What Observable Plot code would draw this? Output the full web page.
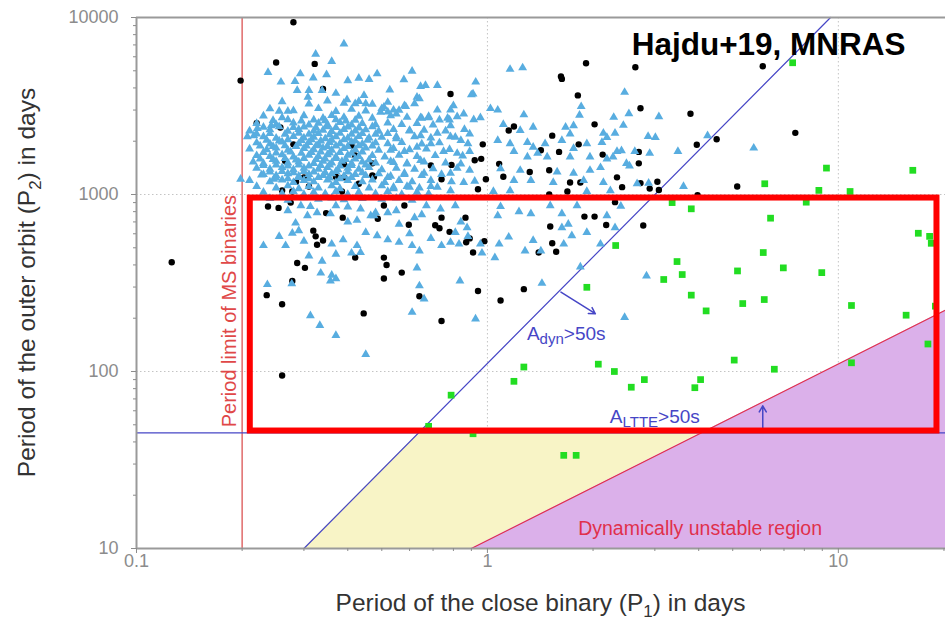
<!DOCTYPE html>
<html><head><meta charset="utf-8">
<script src="https://cdn.jsdelivr.net/npm/d3@7"></script>
<script src="https://cdn.jsdelivr.net/npm/@observablehq/plot@0.6"></script>
<style>body{margin:0;background:#fff;} svg{display:block;}</style>
</head><body><div id="chart"></div>
<script>
// ---------- data: [P1 (days), P2 (days)] ----------
const triangles = [
 [0.39,7100],[0.324,6200],[0.36,5650],[0.237,4900],[0.293,4810],[0.319,4560],[0.348,4760],[0.283,4350],[0.258,4320],[0.40,4400],
 [0.43,4540],[0.46,4470],[0.485,4810],[0.287,3870],[0.31,3870],[0.338,3870],[0.308,3550],[0.37,3730],[0.398,3430],[0.445,3630],
 [0.578,4450],[0.61,4980],[0.666,4130],[0.72,4130],[0.926,4320],[0.527,3900],[0.91,3700],[0.63,3550],[0.58,3180],[0.62,3260],
 [0.80,3180],[0.255,2960],[0.27,2960],[1.02,3060],[1.07,3000],[0.82,2750],[0.955,2720],[0.73,2640],[0.78,2640],[0.65,2700],
 [0.55,2850],[0.496,2920],[0.45,3260],[0.42,3260],[0.645,4080],[0.9,3660],[1.16,5100],[1.26,5200],[0.64,3480],[0.585,3140],
 [0.507,3120],[1.27,2820],[1.85,3140],[1.83,2810],[2.29,2730],[0.645,2720],[0.68,2720],[0.54,3000],[0.52,2930],[0.785,2450],
 [1.11,2490],[1.24,2300],[1.35,2400],[1.67,2400],[1.76,2450],[1.72,2200],[2.14,2220],[2.19,2100],[2.31,2220],[1.07,2020],
 [1.16,1940],[1.3,1970],[1.35,1850],[1.46,1940],[1.63,2020],[1.76,1820],[1.92,1940],[2.12,1970],[1.19,1750],[1.39,1710],
 [1.3,1630],[1.48,1630],[1.72,1630],[1.96,1630],[2.19,1590],[2.34,1750],[1.09,1400],[1.24,1370],[1.58,1340],[1.76,1320],
 [1.96,1370],[2.1,1420],[1.19,1200],[1.33,1200],[1.88,1200],[2.14,1170],[2.24,1050],[1.92,1040],[1.54,1170],[1.16,1050],
 [1.04,1040],[0.785,3000],[0.72,3000],[0.856,2850],[0.914,2650],[0.77,2700],[0.89,2200],[0.84,2020],[0.785,2120],[0.72,2220],
 [0.645,2150],[0.6,2300],[0.55,2120],[0.69,1940],[0.63,1850],[0.58,1750],[0.53,1780],[0.75,1750],[0.82,1710],[0.89,1750],
 [0.645,1560],[0.59,1490],[0.54,1520],[0.84,1490],[0.89,1370],[0.66,1320],[0.58,1320],[0.52,1250],[0.785,1320],[0.856,1170],
 [0.69,1110],[0.6,1100],[0.54,1100],[0.785,1050],
 [2.46,3780],[2.53,2860],[3.08,2750],[2.44,2460],[2.87,2130],[3.01,2100],[4.24,2150],[5.74,1830],[3.49,1750],[2.41,1770],
 [2.63,1750],[2.9,1710],[2.28,1630],[2.49,1500],[2.54,1450],[2.67,1150],[2.88,1160],[3.62,1110],[2.4,860],[2.31,650],
 [2.84,347],[2.46,202],
 [0.475,760],[0.52,790],[0.55,810],[0.56,680],[0.62,740],[0.65,770],[0.485,585],[0.52,555],[0.56,537],[0.6,600],
 [0.61,515],[0.64,480],[0.69,565],[0.74,515],[0.785,537],[0.83,525],[0.81,610],[0.875,650],[0.88,580],[0.955,525],
 [0.965,467],[0.84,700],[0.735,830],[0.81,865],[0.67,865],[0.63,385],[0.64,305],[0.66,257],[0.61,216],[0.835,325],
 [0.925,198],[1.08,525],[1.07,760],[1.09,855],[1.23,800],[1.33,780],[1.15,575],[1.28,480],[1.35,550],[1.42,480],
 [1.05,440],[1.63,780],[1.63,650],[1.7,680],[1.8,865],[1.74,585],[1.65,525],[1.92,610],[2.1,525],[2.19,760],
 [1.43,315],[1.84,390],[1.51,865],
 [0.23,515],[0.255,580],[0.266,515],[0.278,605],[0.30,545],[0.29,625],[0.31,450],[0.338,420],[0.335,360],[0.36,350],
 [0.37,335],[0.357,325],[0.36,525],[0.388,555],[0.425,515],[0.37,460],[0.41,467],[0.435,470],[0.236,310],[0.277,313],
 [0.313,207],[0.333,182],[0.37,160],[0.45,125],[0.284,690],[0.307,760],[0.327,790],[0.357,780],[0.40,700],[0.425,715],
 [0.45,610],[0.465,760],[0.27,810],[0.294,865],[0.313,855],[0.37,865],[0.40,850],[0.435,830],[0.48,790],
 [0.198,1220],[0.227,1290],[0.246,1220],[0.216,2150],[0.207,2120],[0.221,2360],[0.242,2450],
 [0.26,3350],[0.31,3250],[0.35,3380],[0.39,3280],[0.43,3360],[0.47,3240],[0.52,3320],
 [0.24,3050],[0.28,2980],[0.33,3060],[0.37,2950],[0.41,3030],[0.45,2970],[0.50,3060],[0.56,2990],
 [0.23,2780],[0.26,2720],[0.30,2790],[0.34,2700],[0.36,2800],[0.39,2730],[0.43,2770],[0.47,2700],[0.53,2790],[0.59,2730],[0.68,2760],
 [0.22,2520],[0.25,2480],[0.28,2540],[0.31,2470],[0.33,2530],[0.35,2490],[0.38,2550],[0.41,2470],[0.44,2520],[0.48,2480],[0.52,2540],[0.57,2490],[0.63,2520],[0.70,2470],
 [0.21,2290],[0.24,2320],[0.27,2280],[0.29,2330],[0.32,2290],[0.34,2310],[0.36,2270],[0.39,2330],[0.42,2290],[0.45,2320],[0.49,2280],[0.54,2330],[0.60,2290],[0.66,2310],[0.76,2290],[0.86,2330],
 [0.23,2120],[0.25,2080],[0.28,2130],[0.30,2090],[0.32,2110],[0.345,2070],[0.37,2120],[0.40,2080],[0.43,2130],[0.46,2090],[0.50,2110],[0.55,2070],[0.62,2120],[0.69,2090],[0.81,2110],
 [0.22,1960],[0.24,1930],[0.26,1980],[0.29,1940],[0.31,1970],[0.33,1920],[0.355,1970],[0.38,1940],[0.41,1980],[0.44,1930],[0.48,1960],[0.52,1940],[0.57,1970],[0.65,1930],[0.73,1960],[0.88,1940],
 [0.21,1810],[0.235,1790],[0.25,1830],[0.27,1780],[0.30,1820],[0.32,1790],[0.34,1830],[0.36,1780],[0.39,1820],[0.42,1790],[0.45,1830],[0.49,1780],[0.54,1820],[0.60,1790],[0.67,1810],[0.78,1800],
 [0.22,1660],[0.24,1640],[0.26,1680],[0.28,1630],[0.31,1670],[0.33,1640],[0.35,1680],[0.37,1630],[0.40,1670],[0.43,1640],[0.47,1660],[0.51,1630],[0.56,1670],[0.63,1640],[0.71,1660],[0.85,1650],
 [0.215,1530],[0.23,1500],[0.25,1540],[0.27,1510],[0.29,1530],[0.32,1500],[0.34,1540],[0.36,1510],[0.385,1540],[0.41,1500],[0.44,1530],[0.48,1510],[0.53,1540],[0.59,1500],[0.66,1530],[0.76,1510],
 [0.22,1410],[0.24,1390],[0.26,1420],[0.28,1380],[0.30,1410],[0.33,1390],[0.35,1420],[0.375,1380],[0.40,1410],[0.43,1390],[0.46,1420],[0.50,1380],[0.55,1410],[0.62,1390],[0.70,1400],[0.82,1410],
 [0.23,1300],[0.25,1280],[0.27,1310],[0.29,1270],[0.31,1300],[0.34,1280],[0.36,1310],[0.39,1270],[0.42,1300],[0.45,1280],[0.49,1310],[0.53,1270],[0.58,1300],[0.65,1280],[0.74,1300],
 [0.21,1200],[0.24,1180],[0.26,1210],[0.28,1170],[0.30,1200],[0.32,1180],[0.35,1210],[0.37,1170],[0.40,1200],[0.44,1180],[0.47,1210],[0.51,1170],[0.56,1200],[0.61,1180],[0.69,1200],[0.79,1180],[0.92,1190],
 [0.22,1110],[0.25,1090],[0.27,1120],[0.29,1080],[0.31,1110],[0.33,1090],[0.36,1120],[0.38,1080],[0.42,1110],[0.46,1090],[0.50,1120],[0.54,1080],[0.59,1110],[0.64,1090],[0.72,1100],
 [0.23,1030],[0.26,1010],[0.28,1040],[0.30,1000],[0.32,1030],[0.345,1010],[0.37,1040],[0.40,1000],[0.43,1030],[0.48,1010],[0.52,1040],[0.57,1000],[0.63,1030],[0.68,1010],
 [0.24,950],[0.27,930],[0.30,960],[0.33,940],[0.36,955],[0.39,935],[0.44,950],[0.50,940],[0.55,955],[0.61,930],
 [0.245,2620],[0.27,2650],[0.295,2600],[0.32,2640],[0.345,2610],[0.37,2650],[0.395,2600],[0.42,2630],
 [0.23,2400],[0.255,2420],[0.28,2390],[0.30,2410],[0.325,2380],[0.35,2420],[0.37,2390],[0.40,2410],[0.43,2380],[0.47,2420],
 [0.22,2200],[0.24,2210],[0.265,2190],[0.29,2220],[0.31,2190],[0.33,2210],[0.355,2180],[0.38,2220],[0.41,2190],[0.44,2210],[0.48,2190],[0.52,2210],
 [0.235,2030],[0.255,2010],[0.27,2040],[0.295,2020],[0.315,2040],[0.335,2010],[0.36,2030],[0.39,2040],[0.42,2010],[0.455,2030],
 [0.225,1880],[0.245,1870],[0.265,1890],[0.285,1870],[0.305,1880],[0.325,1890],[0.35,1870],[0.37,1880],[0.40,1870],[0.43,1890],[0.47,1880],
 [0.23,1730],[0.25,1720],[0.275,1740],[0.295,1710],[0.315,1730],[0.335,1740],[0.355,1720],[0.38,1730],[0.41,1710],[0.44,1740],
 [0.225,1590],[0.245,1580],[0.265,1600],[0.285,1570],[0.30,1600],[0.325,1580],[0.345,1590],[0.37,1600],[0.395,1580],[0.42,1590],[0.46,1570],
 [0.23,1460],[0.25,1470],[0.27,1450],[0.29,1470],[0.31,1450],[0.335,1460],[0.355,1470],[0.38,1450],[0.41,1460],[0.45,1470],
 [0.24,1340],[0.26,1350],[0.28,1330],[0.30,1350],[0.32,1340],[0.345,1330],[0.37,1350],[0.40,1340],[0.44,1330],
 [0.25,1240],[0.27,1230],[0.29,1250],[0.31,1230],[0.33,1250],[0.355,1240],[0.38,1230],[0.41,1250]
];
const blackDots = [
 [0.28,9400],[0.198,4400],[0.25,5570],[0.322,5470],[0.22,2530],[0.257,2390],[0.28,1920],[0.265,1550],[0.39,1480],[0.47,1500],
 [0.43,1150],[0.39,1250],[0.30,1250],[0.285,1180],[0.31,1110],[0.26,1055],[0.278,1040],[0.37,1260],[0.385,1040],[0.47,1280],
 [0.41,1890],[0.42,1660],[0.34,3950],
 [0.785,3700],[1.62,4640],[1.63,4500],[1.91,5520],[1.81,3630],[2.02,2490],[1.19,2420],[1.15,2300],[1.53,2150],[1.82,1920],[0.97,1920],
 [2.13,1680],[1.6,1740],[1.42,1780],[0.96,1590],[0.92,1560],[0.69,1460],[0.79,1470],[1.08,1490],[1.5,1370],[1.32,1340],
 [1.11,1260],[0.74,1220],[0.99,1220],[0.475,1260],[1.72,1170],[1.84,1170],[2.34,1250],[1.69,1040],[1.5,1000],[0.94,1070],
 [2.64,5240],[6.09,5300],[2.73,3070],[3.79,2860],[7.54,2230],[3.95,1910],[4.5,2050],[2.7,1740],[2.7,1500],[2.73,1160],
 [3.05,1180],[2.9,1080],[3.08,1060],[2.42,1100],[5.15,1110],[3.97,990],
 [0.126,414],[0.237,855],[0.254,840],[0.275,900],[0.319,625],[0.324,580],[0.34,550],[0.327,520],[0.287,410],[0.302,385],
 [0.278,325],[0.235,270],[0.26,240],[0.444,213],[0.26,95],[0.387,740],[0.42,440],[0.347,785],
 [0.507,867],[0.487,730],[0.597,675],[0.58,867],[0.74,740],[0.71,670],[0.73,645],[0.78,615],[0.866,740],[0.87,537],
 [0.89,565],[0.98,545],[0.91,470],[0.507,440],[0.516,400],[0.57,362],[0.507,335],[0.94,285],[0.64,266],[0.74,193],
 [1.09,252],[1.27,292],[1.51,660],[1.53,530],[1.4,470],[1.57,475],[1.89,750],[2.02,750],[2.18,672],[2.31,905],[2.78,668]
];
const greenSquares = [
 [7.41,5550],[9.25,1410],[16.3,1370],[6.17,1150],[8.8,1055],[10.8,1040],[8.1,905],[3.36,900],[3.81,830],[6.41,735],
 [16.9,604],[18.2,580],[18.4,530],[2.32,515],[6.11,470],[3.47,418],[3.59,353],[3.18,331],[5.16,370],[6.97,385],
 [8.97,362],[3.81,270],[4.2,220],[5.34,242],[6.15,255],[10.9,236],[15.6,208],[18.9,234],[18.0,143],[10.9,112],
 [5.05,116],[6.57,103],[2.3,100],[2.8,90],[2.57,81.5],[4.05,90],[3.9,81],[1.27,106],[1.19,88],[2.07,110],
 [1.92,299],[0.788,73.5],[0.68,49],[0.91,44.5],[1.65,33.6],[1.79,33.6]
];
// axes
const xTicks = [0.1, 1, 10];
const yTicks = [10, 100, 1000, 10000];
const xMinor = [0.2,0.3,0.4,0.5,0.6,0.7,0.8,0.9,2,3,4,5,6,7,8,9,20];
const yMinor = [20,30,40,50,60,70,80,90,200,300,400,500,600,700,800,900,2000,3000,4000,5000,6000,7000,8000,9000];
const xGrid = [1, 10];
const yGrid = [100, 1000];
// limits and regions
const msLimitP1 = 0.2;
const ltteP2 = 45;
const dynLine = [[0.3, 10], [9.5, 10000]];
const stabLine = [[0.9, 10], [20.2, 222]];
const yellowP1 = [0.3, 0.637, 0.9, 4.05];
const yellowTop = [10, 45, 45, 45];
const yellowBottom = [10, 10, 10, 45];
const purpleP1 = [0.9, 20.2];
const purpleTop = [10, 222];
const purpleBottom = [10, 10];
const box = [{x1: 0.211, x2: 19.1, y1: 46.1, y2: 955}];
const dynArrow = [{x1: 1.62, y1: 281, x2: 2.03, y2: 212}];
const ltteArrow = [{x1: 6.09, y1: 45.5, x2: 6.09, y2: 64}];

const FONT = "Liberation Sans, Arial, Helvetica, sans-serif";
const BLUE = "#4646c6";
const GRAY = "#8c8c8c";

const chart = Plot.plot({
  width: 945, height: 621,
  marginTop: 17, marginLeft: 136, marginRight: 0, marginBottom: 73,
  x: {type: "log", domain: [0.1, 20.2], label: null},
  y: {type: "log", domain: [10, 10000], label: null},
  style: {fontFamily: FONT, background: "#fff", overflow: "visible"},
  marks: [
    Plot.ruleX(xGrid, {stroke: "#c4c4c4", strokeDasharray: "1.5,2.5"}),
    Plot.ruleY(yGrid, {stroke: "#c4c4c4", strokeDasharray: "1.5,2.5"}),
    Plot.areaY(yellowP1, {x: d => d, y1: (d, i) => yellowBottom[i], y2: (d, i) => yellowTop[i], fill: "#f8f4c6", curve: "linear"}),
    Plot.areaY(purpleP1, {x: d => d, y1: (d, i) => purpleBottom[i], y2: (d, i) => purpleTop[i], fill: "#dbb0ea", curve: "linear"}),
    Plot.ruleX([msLimitP1], {stroke: "#e06a6a", strokeWidth: 1.5}),
    Plot.ruleY([ltteP2], {stroke: BLUE, strokeWidth: 1.2}),
    Plot.line(dynLine, {x: d => d[0], y: d => d[1], stroke: BLUE, strokeWidth: 1.2}),
    Plot.line(stabLine, {x: d => d[0], y: d => d[1], stroke: "#e0304c", strokeWidth: 1.2}),
    Plot.dot(blackDots, {x: d => d[0], y: d => d[1], r: 3.2, fill: "#000"}),
    Plot.dot(triangles, {x: d => d[0], y: d => d[1], symbol: "triangle", r: 3.3, fill: "#58ade0"}),
    Plot.dot(greenSquares, {x: d => d[0], y: d => d[1], symbol: "square", r: 3.8, fill: "#22dd22"}),
    Plot.arrow(dynArrow, {x1: "x1", y1: "y1", x2: "x2", y2: "y2", stroke: BLUE, strokeWidth: 1.5, headLength: 7, bend: 0}),
    Plot.arrow(ltteArrow, {x1: "x1", y1: "y1", x2: "x2", y2: "y2", stroke: BLUE, strokeWidth: 1.5, headLength: 7, bend: 0}),
    Plot.ruleX([0.1], {stroke: "#9a9a9a", strokeWidth: 2}),
    Plot.ruleY([10], {stroke: "#9a9a9a", strokeWidth: 2}),
    Plot.ruleY([10000], {stroke: "#9a9a9a", strokeWidth: 2}),
    Plot.axisX(xMinor, {tickFormat: () => "", tickSize: 3, color: GRAY, label: null}),
    Plot.axisY(yMinor, {tickFormat: () => "", tickSize: 3, color: GRAY, label: null}),
    Plot.axisX(xTicks, {tickFormat: d => String(d), tickSize: 5, tickPadding: 1, fontSize: 18, color: GRAY, label: null}),
    Plot.axisY(yTicks, {tickFormat: d => String(d), tickSize: 5, tickPadding: 13, fontSize: 18, color: GRAY, label: null}),
    Plot.rect(box, {x1: "x1", x2: "x2", y1: "y1", y2: "y2", fill: "none", stroke: "#ff0000", strokeWidth: 6})
  ]
});

document.getElementById("chart").appendChild(chart);

// ---------- texts with subscripts, positioned through Plot's scales ----------
const sx = chart.scale("x"), sy = chart.scale("y");
const rectGroup = chart.querySelector('g[aria-label="rect"]');

function addLabel(x, y, parts, o) {
  const t = d3.create("svg:text")
    .attr("transform", `translate(${x},${y})` + (o.rotate ? ` rotate(${o.rotate})` : ""))
    .attr("text-anchor", o.anchor || "start")
    .attr("fill", o.color)
    .attr("font-family", FONT)
    .attr("font-size", o.size)
    .attr("font-weight", o.weight || "normal");
  let shift = 0;
  for (const p of parts) {
    const s = t.append("tspan").text(p.t);
    const target = p.sub ? p.sub : 0;
    if (target !== shift) { s.attr("dy", target - shift); shift = target; }
    if (p.size) s.attr("font-size", p.size);
  }
  chart.insertBefore(t.node(), o.top ? null : rectGroup);
}

// axis titles
addLabel(540.5, 611, [{t: "Period of the close binary (P"}, {t: "1", sub: 6, size: 17}, {t: ") in days"}],
  {size: 24.5, color: "#333", anchor: "middle", top: true});
addLabel(35, 282.5, [{t: "Period of the outer orbit (P"}, {t: "2", sub: 6, size: 17}, {t: ") in days"}],
  {size: 24.5, color: "#333", anchor: "middle", rotate: -90, top: true});

// annotations
addLabel(sx.apply(0.193), sy.apply(218), [{t: "Period limit of MS binaries"}],
  {size: 20, color: "#e04848", anchor: "middle", rotate: -90});
addLabel(sx.apply(1.30), sy.apply(150), [{t: "A"}, {t: "dyn", sub: 4, size: 15}, {t: ">50s"}],
  {size: 19, color: BLUE});
addLabel(sx.apply(2.24), sy.apply(50.6), [{t: "A"}, {t: "LTTE", sub: 4, size: 15}, {t: ">50s"}],
  {size: 19, color: BLUE});
addLabel(sx.apply(1.82), sy.apply(11.8), [{t: "Dynamically unstable region"}],
  {size: 19.5, color: "#e0304c"});
addLabel(sx.apply(6.35), sy.apply(6100), [{t: "Hajdu+19, MNRAS"}],
  {size: 31.5, color: "#000", anchor: "middle", weight: "bold", top: true});
</script>
</body></html>
